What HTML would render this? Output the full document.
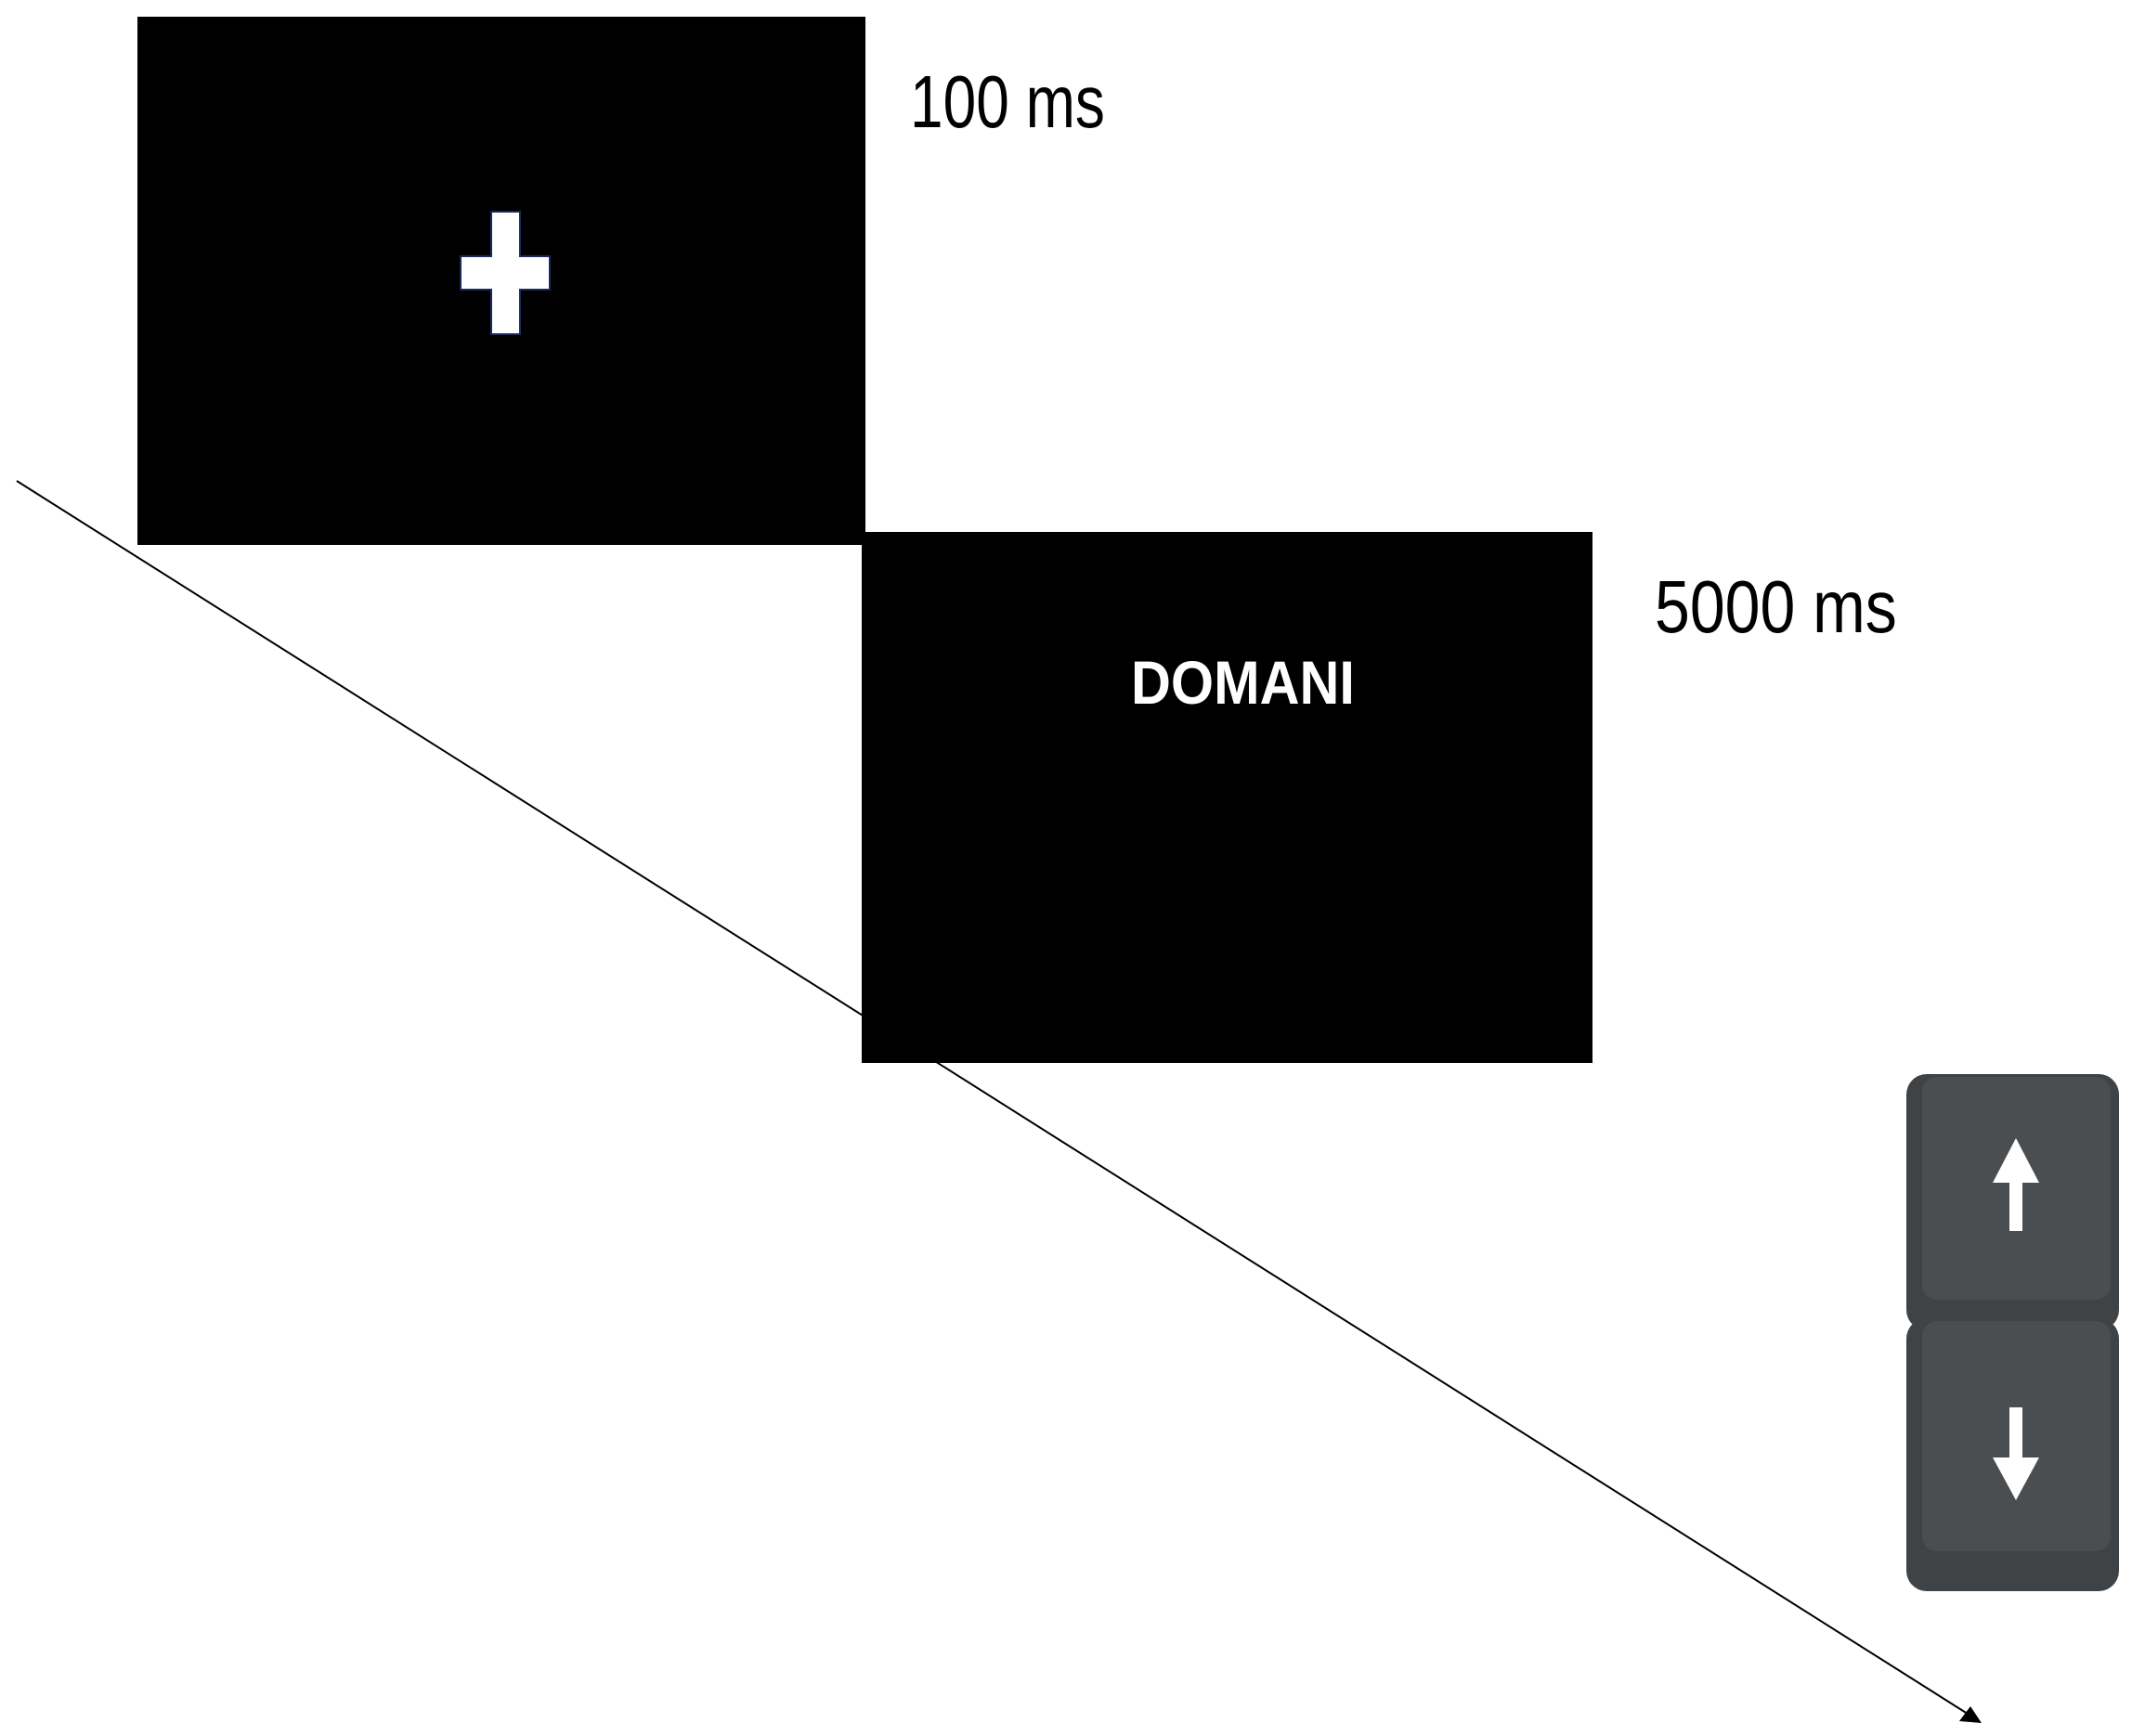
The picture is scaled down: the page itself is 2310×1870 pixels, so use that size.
<!DOCTYPE html>
<html><head><meta charset="utf-8"><style>
html,body{margin:0;padding:0;background:#fff;}
body{width:2310px;height:1870px;position:relative;overflow:hidden;}
.t{position:absolute;font-family:"Liberation Sans",sans-serif;white-space:nowrap;transform-origin:0 0;}
</style></head><body>
<svg width="2310" height="1870" style="position:absolute;left:0;top:0">
<rect x="148" y="18" width="784" height="569" fill="#000"/>
<rect x="928" y="573" width="787" height="572" fill="#000"/>
<path d="M529 228h31v48h32v36h-32v48h-31v-48h-33v-36h33z" fill="#fff" stroke="#1a2a5a" stroke-width="2"/>
<line x1="18" y1="518" x2="2122" y2="1848" stroke="#000" stroke-width="2"/>
<polygon points="2134,1856 2110,1854 2122,1838" fill="#000"/>
<rect x="2053" y="1157" width="229" height="276" rx="22" fill="#404345"/>
<rect x="2053" y="1420" width="229" height="294" rx="22" fill="#404345"/>
<rect x="2070" y="1160" width="203" height="240" rx="16" fill="#4a4e51"/>
<rect x="2070" y="1423" width="203" height="248" rx="16" fill="#4a4e51"/>
<polygon points="2171,1226 2146,1274 2164,1274 2164,1326 2178,1326 2178,1274 2196,1274" fill="#fff"/>
<polygon points="2164,1516 2178,1516 2178,1570 2196,1570 2171,1616 2146,1570 2164,1570" fill="#fff"/>
</svg>
<div class="t" style="left:980px;top:64px;font-size:80px;transform:scaleX(0.8)">100 ms</div>
<div class="t" style="left:1782px;top:608px;font-size:80px;transform:scaleX(0.85)">5000 ms</div>
<div class="t" style="left:1218px;top:697px;font-size:66px;font-weight:bold;color:#fff;transform:scaleX(0.9)">DOMANI</div>
</body></html>
